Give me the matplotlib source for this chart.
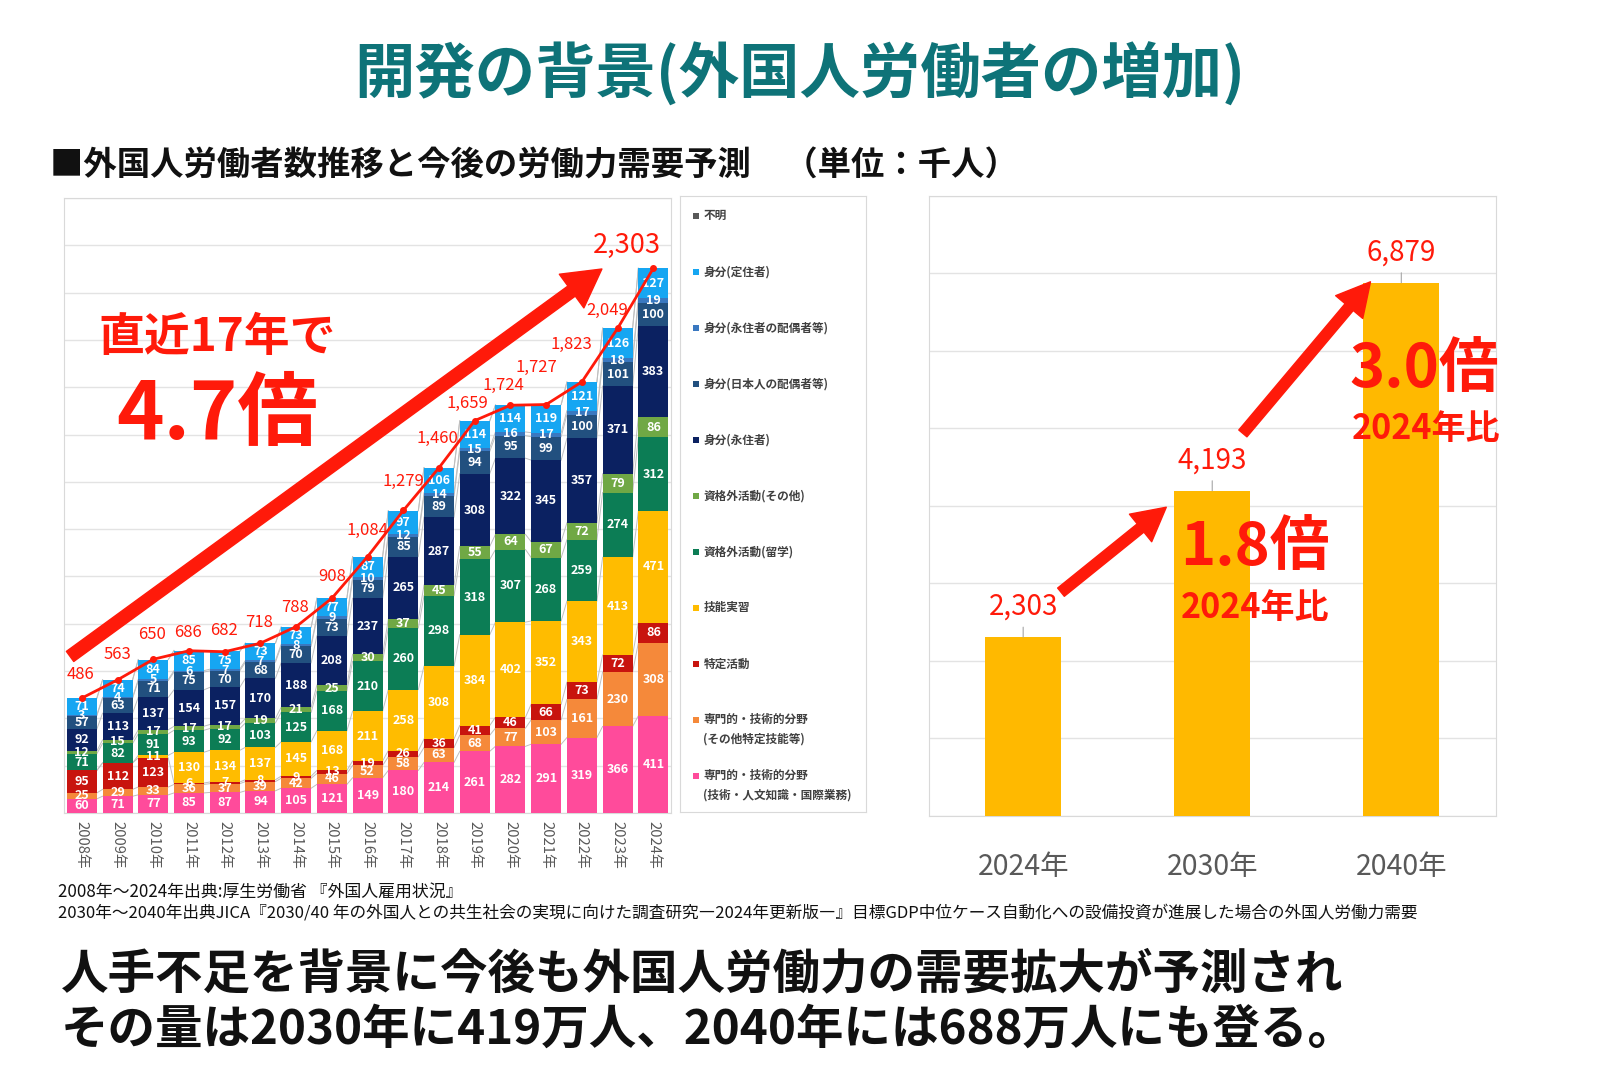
import numpy as np
import matplotlib
matplotlib.use('Agg')
import matplotlib.pyplot as plt

plt.rcParams['font.family'] = ['Noto Sans CJK JP', 'DejaVu Sans']

# ---- data (千人) ----
years = ['2008年', '2009年', '2010年', '2011年', '2012年', '2013年', '2014年', '2015年', '2016年',
         '2017年', '2018年', '2019年', '2020年', '2021年', '2022年', '2023年', '2024年']
senmon_gijin = [60, 71, 77, 85, 87, 94, 105, 121, 149, 180, 214, 261, 282, 291, 319, 366, 411]
senmon_other = [25, 29, 33, 36, 37, 39, 42, 46, 52, 58, 63, 68, 77, 103, 161, 230, 308]
tokutei_katsudo = [95, 112, 123, 6, 7, 8, 9, 13, 19, 26, 36, 41, 46, 66, 73, 72, 86]
ginou_jisshu = [0, 0, 11, 130, 134, 137, 145, 168, 211, 258, 308, 384, 402, 352, 343, 413, 471]
ryugaku = [71, 82, 91, 93, 92, 103, 125, 168, 210, 260, 298, 318, 307, 268, 259, 274, 312]
shikakugai_other = [12, 15, 17, 17, 17, 19, 21, 25, 30, 37, 45, 55, 64, 67, 72, 79, 86]
eijusha = [92, 113, 137, 154, 157, 170, 188, 208, 237, 265, 287, 308, 322, 345, 357, 371, 383]
nihonjin_haigu = [57, 63, 71, 75, 70, 68, 70, 73, 79, 85, 89, 94, 95, 99, 100, 101, 100]
eijusha_haigu = [3, 4, 5, 6, 7, 7, 8, 9, 10, 12, 14, 15, 16, 17, 17, 18, 19]
teijusha = [71, 74, 84, 85, 75, 73, 73, 77, 87, 97, 106, 114, 114, 119, 121, 126, 127]
fumei = [0] * 17
totals = [486, 563, 650, 686, 682, 718, 788, 908, 1084, 1279, 1460, 1659, 1724, 1727, 1823, 2049, 2303]

series_names = ['専門的・技術的分野\n(技術・人文知識・国際業務)', '専門的・技術的分野\n(その他特定技能等)',
                '特定活動', '技能実習', '資格外活動(留学)', '資格外活動(その他)', '身分(永住者)',
                '身分(日本人の配偶者等)', '身分(永住者の配偶者等)', '身分(定住者)', '不明']
series_vals = [senmon_gijin, senmon_other, tokutei_katsudo, ginou_jisshu, ryugaku, shikakugai_other,
               eijusha, nihonjin_haigu, eijusha_haigu, teijusha, fumei]
series_colors = ['#FF4B9B', '#F5893A', '#C8140E', '#FFBC00', '#0C7D55', '#70A845', '#0B2161',
                 '#22507F', '#3A78C0', '#16A6F2', '#595959']

proj_years = ['2024年', '2030年', '2040年']
proj_vals = [2303, 4193, 6879]

# label offsets of the total labels, in pixels (dx, dy)
total_offsets = [(-1, 24), (0, 25), (-1, 25), (-1, 18), (-1, 21), (-1, 21), (-1, 19), (0, 22), (0, 26),
                 (0, 29), (-2, 29), (-7, 17), (-7, 20), (-10, 37), (-11, 37), (-10, 18), (-26, 23)]

RED = '#FF1A0A'
PT = 0.72  # px -> pt at 100 dpi

fig = plt.figure(figsize=(16, 10.78), dpi=100)

# ---- titles ----
fig.text(0.4996, 0.931, '開発の背景(外国人労働者の増加)', ha='center', va='center',
         fontsize=43.5, fontweight='bold', color='#0E7378')
fig.text(0.031, 0.846, '■外国人労働者数推移と今後の労働力需要予測　（単位：千人）', ha='left', va='center',
         fontsize=24, fontweight='bold', color='#111111')

# ---- left stacked chart ----
ax = fig.add_axes([0.04, 0.2458, 0.3795, 0.5705])
x = np.arange(len(years))
w = 0.84
bottom = np.zeros(len(years))
for name, vals, col in zip(series_names, series_vals, series_colors):
    vals = np.array(vals, dtype=float)
    ax.bar(x, vals, w, bottom=bottom, color=col, zorder=3)
    top = bottom + vals
    # series lines between bars
    for i in range(len(x) - 1):
        ax.plot([x[i] + w / 2, x[i + 1] - w / 2], [top[i], top[i + 1]], color='#BFBFBF', lw=0.7, zorder=2)
    for i, v in enumerate(vals):
        if v > 0:
            ax.text(x[i], bottom[i] + v / 2, f'{int(v)}', ha='center', va='center', color='white',
                    fontsize=9, fontweight='bold', zorder=5)
    bottom = top

ax.plot(x, totals, color=RED, lw=2, marker='o', ms=4, zorder=6)
for i, t in enumerate(totals):
    dx, dy = total_offsets[i]
    fs = 19.5 if i == len(totals) - 1 else 12
    ax.annotate(f'{t:,}', (x[i], t), xytext=(dx * PT, dy * PT), textcoords='offset points', ha='center',
                va='center', color=RED, fontsize=fs, zorder=7)

ax.annotate('', xy=(14.56, 2300), xytext=(-0.33, 662),
            arrowprops=dict(arrowstyle='simple,head_width=1.5,head_length=1.35,tail_width=0.45',
                            mutation_scale=20, color=RED, shrinkA=0, shrinkB=0), zorder=4)
ax.text(3.78, 2010, '直近17年で', ha='center', va='center', color=RED, fontsize=33, fontweight='bold', zorder=8)
ax.text(3.78, 1680, '4.7倍', ha='center', va='center', color=RED, fontsize=58, fontweight='bold', zorder=8)

ax.set_xlim(-0.5, len(years) - 0.5)
ax.set_ylim(0, 2600)
ax.set_yticks(np.arange(0, 2601, 200))
ax.yaxis.grid(True, color='#E3E3E3', lw=1, zorder=0)
ax.tick_params(axis='y', left=False, labelleft=False)
ax.set_xticks(x)
ax.set_xticklabels(years, rotation=-90, fontsize=10.7, color='#595959')
ax.tick_params(axis='x', length=0, pad=6)
for s in ax.spines.values():
    s.set_color('#D9D9D9')

# ---- legend box ----
lax = fig.add_axes([0.4249, 0.2463, 0.1163, 0.5718])
lax.set_xlim(0, 1)
lax.set_ylim(0, 1)
lax.set_xticks([])
lax.set_yticks([])
for s in lax.spines.values():
    s.set_color('#D9D9D9')
leg_order = list(range(len(series_names)))[::-1]
for k, idx in enumerate(leg_order):
    yy = 1 - 0.0316 - 0.0909 * k
    lax.scatter([0.088], [yy], marker='s', s=17, color=series_colors[idx], linewidths=0)
    lines = series_names[idx].split('\n')
    for j, line in enumerate(lines):
        lax.text(0.127, yy - j * 0.0316, line, ha='left', va='center', fontsize=8.4, fontweight='bold',
                 color='#404040')

# ---- right projection chart ----
ax2 = fig.add_axes([0.5804, 0.2435, 0.3545, 0.5747])
xp = np.arange(len(proj_years))
ax2.bar(xp, proj_vals, 0.4, color='#FFB900', zorder=3)
for i, v in enumerate(proj_vals):
    ax2.annotate(f'{v:,}', (xp[i], v), xytext=(0, 22), textcoords='offset points', ha='center',
                 va='center', color=RED, fontsize=20,
                 arrowprops=dict(arrowstyle='-', color='#A6A6A6', lw=0.8, shrinkA=2, shrinkB=0))
ax2.set_xlim(-0.5, 2.5)
ax2.set_ylim(0, 8000)
ax2.set_yticks(np.arange(0, 8001, 1000))
ax2.yaxis.grid(True, color='#E3E3E3', lw=1, zorder=0)
ax2.tick_params(axis='y', left=False, labelleft=False)
ax2.set_xticks(xp)
ax2.set_xticklabels(proj_years, fontsize=20.5, color='#595959')
ax2.tick_params(axis='x', length=0, pad=26)
for s in ax2.spines.values():
    s.set_color('#D9D9D9')

arrow_style = 'simple,head_width=1.5,head_length=1.4,tail_width=0.45'
ax2.annotate('', xy=(0.757, 3981), xytext=(0.20, 2884),
             arrowprops=dict(arrowstyle=arrow_style, mutation_scale=17, color=RED, shrinkA=0, shrinkB=0))
ax2.annotate('', xy=(1.837, 6892), xytext=(1.162, 4934),
             arrowprops=dict(arrowstyle=arrow_style, mutation_scale=17, color=RED, shrinkA=0, shrinkB=0))
ax2.text(1.227, 3450, '1.8倍', ha='center', va='center', color=RED, fontsize=43, fontweight='bold', zorder=5)
ax2.text(1.227, 2685, '2024年比', ha='center', va='center', color=RED, fontsize=24.5, fontweight='bold', zorder=5)
ax2.text(2.12, 5750, '3.0倍', ha='center', va='center', color=RED, fontsize=43, fontweight='bold', zorder=5)
ax2.text(2.13, 5000, '2024年比', ha='center', va='center', color=RED, fontsize=24.5, fontweight='bold', zorder=5)

# ---- footnotes and message ----
fig.text(0.0365, 0.1729, '2008年～2024年出典:厚生労働省 『外国人雇用状況』', ha='left', va='center',
         fontsize=12.2, color='#111111')
fig.text(0.0365, 0.1529, '2030年～2040年出典JICA『2030/40 年の外国人との共生社会の実現に向けた調査研究―2024年更新版―』'
         '目標GDP中位ケース自動化への設備投資が進展した場合の外国人労働力需要', ha='left', va='center',
         fontsize=12, color='#111111')
fig.text(0.038, 0.096, '人手不足を背景に今後も外国人労働力の需要拡大が予測され', ha='left', va='center',
         fontsize=34.2, fontweight='bold', color='#111111')
fig.text(0.038, 0.045, 'その量は2030年に419万人、2040年には688万人にも登る。', ha='left', va='center',
         fontsize=34.2, fontweight='bold', color='#111111')

fig.savefig('out.png', dpi=100, facecolor='white')
